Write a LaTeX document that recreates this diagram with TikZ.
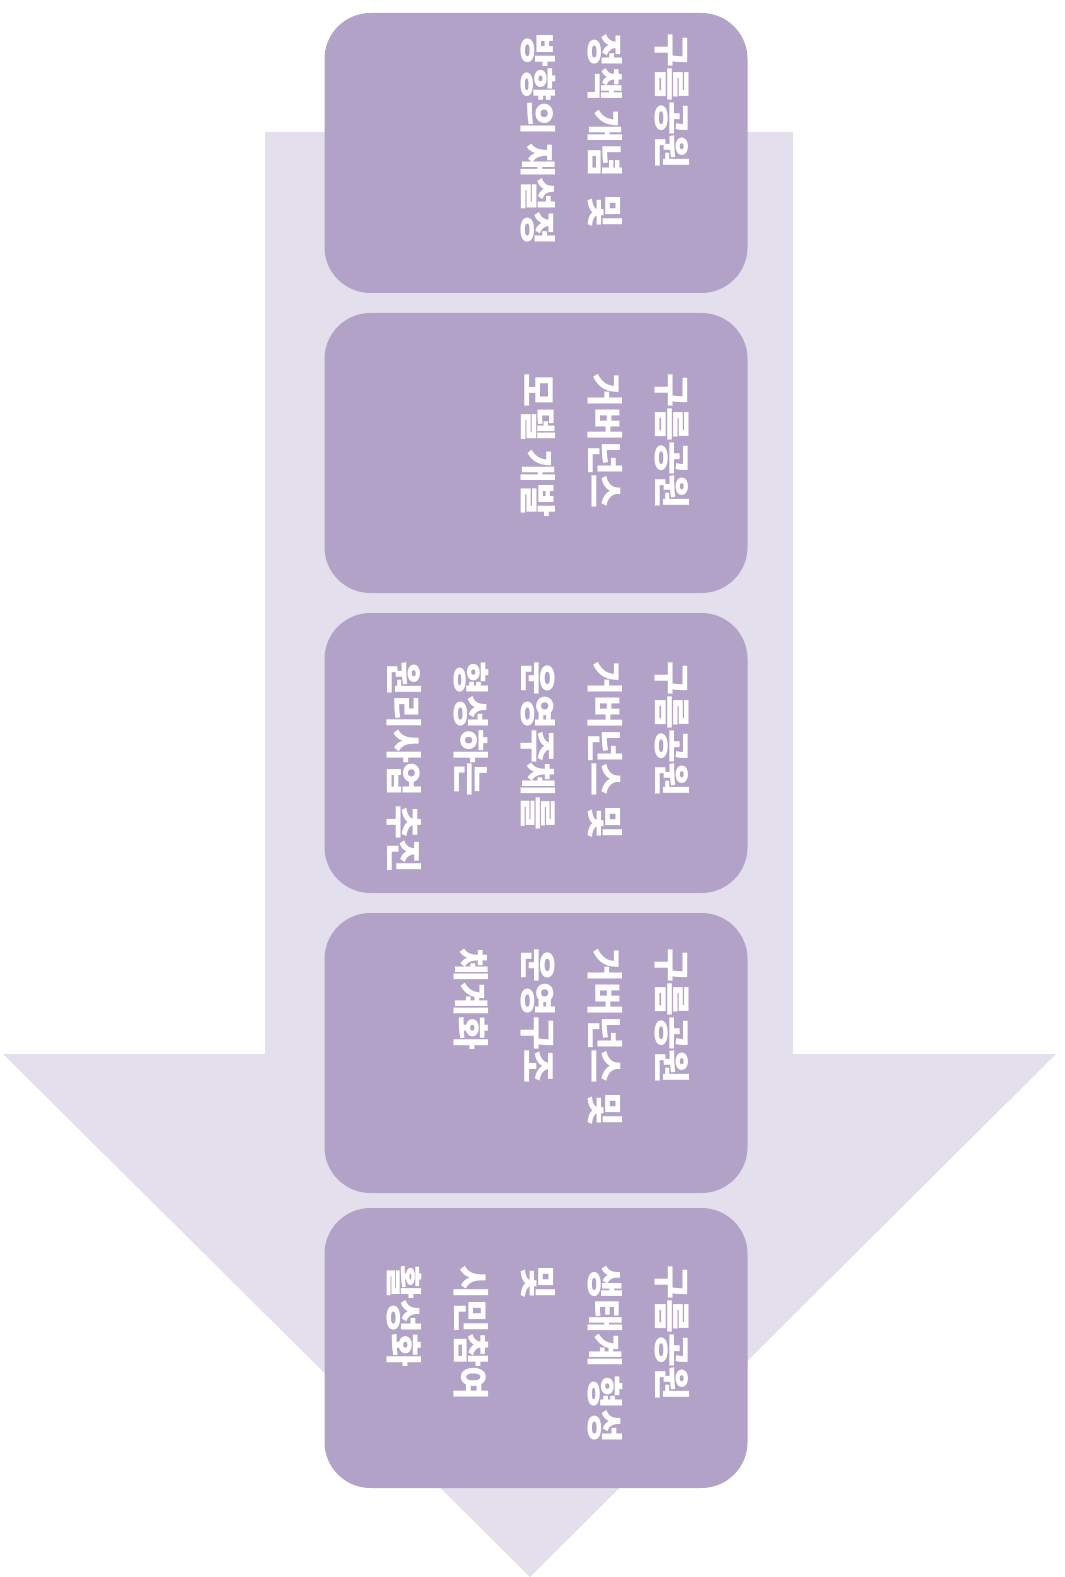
\documentclass[tikz,border=0pt]{standalone}
\usepackage{fontspec}
\setmainfont{Noto Sans CJK KR}
\definecolor{arrowbg}{HTML}{E4DFEC}
\definecolor{stepfill}{HTML}{B2A2C7}
\tikzset{
  stepbox/.style={fill=stepfill, rounded corners=23pt, minimum width=211.5pt, minimum height=140pt, inner sep=0pt},
  steptext/.style={rotate=-90, anchor=north west, inner sep=0pt, align=left, text=white, font=\fontsize{18.4pt}{33.5pt}\selectfont\bfseries}
}
\begin{document}
\begin{tikzpicture}[x=0.5pt,y=-0.5pt]
\useasboundingbox (0,0) rectangle (1064,1577);
\fill[arrowbg] (265,132) -- (793,132) -- (793,1054) -- (1056,1054) -- (530,1577) -- (3,1054) -- (265,1054) -- cycle;
\foreach \y [count=\i] in {153,453,753,1053,1348}
  \node[stepbox] (s\i) at (536,\y) {};
\node[steptext] (t1) at (690,33) {구름공원\\정책 개념~~및\\방향의 재설정};
\node[steptext] (t2) at (690,373) {구름공원\\거버넌스\\모델 개발};
\node[steptext] (t3) at (690,661) {구름공원\\거버넌스 및\\운영주체를\\형성하는\\원리사업 추진};
\node[steptext] (t4) at (690,948) {구름공원\\거버넌스 및\\운영구조\\체계화};
\node[steptext] (t5) at (690,1265) {구름공원\\생태계 형성\\및\\시민참여\\활성화};
\end{tikzpicture}
\end{document}
